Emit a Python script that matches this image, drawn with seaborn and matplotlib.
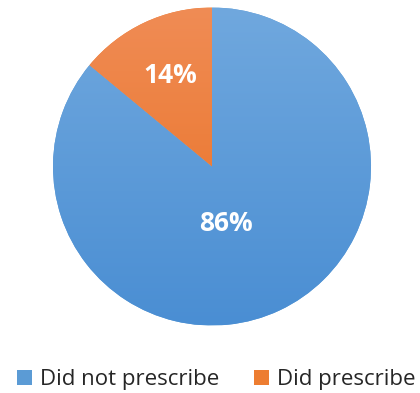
import numpy as np
import matplotlib
matplotlib.use("Agg")
import matplotlib.pyplot as plt
import seaborn as sns
from matplotlib.colors import LinearSegmentedColormap
from matplotlib.patches import Patch

categories = ["Did not prescribe", "Did prescribe"]
values = [86, 14]
pct_labels = ["86%", "14%"]

sns.set_theme(style="white")
plt.rcParams['font.family'] = ['Open Sans', 'DejaVu Sans']

base_colors = ["#5B9BD5", "#ED7D31"]
grad = [("#70A8DE", "#4A8ED3"), ("#F08C55", "#E86E1E")]

fig = plt.figure(figsize=(4.2, 3.93), dpi=100)
ax = fig.add_axes([(212 - 159) / 420, 1 - (166.5 + 159) / 393, 318 / 420, 318 / 393])
wedges, _ = ax.pie(values, colors=base_colors, startangle=90, counterclock=False,
                   radius=1.0, wedgeprops=dict(linewidth=0))
ax.set_xlim(-1, 1)
ax.set_ylim(-1, 1)
ax.set_aspect('equal')

yy = np.linspace(0, 1, 256).reshape(-1, 1)
for w, (top, bot) in zip(wedges, grad):
    cmap = LinearSegmentedColormap.from_list("g", [bot, top])
    im = ax.imshow(yy, cmap=cmap, extent=[-1, 1, -1, 1], origin='lower',
                   aspect='auto', zorder=w.get_zorder() + 0.1)
    im.set_clip_path(w)

# percentage labels
label_pos = [(0.085, -0.36), (-0.265, 0.57)]
for txt, (x, y) in zip(pct_labels, label_pos):
    ax.text(x, y, txt, ha='center', va='center', color='white',
            fontsize=19, fontweight='bold', zorder=10)

handles = [Patch(facecolor=c, edgecolor='none') for c in base_colors]
fig.legend(handles, categories, loc='center', bbox_to_anchor=(0.515, 1 - 380 / 393),
           ncol=2, frameon=False, fontsize=16, handlelength=0.65, handleheight=0.65,
           handletextpad=0.35, columnspacing=1.6, borderaxespad=0, borderpad=0)

fig.savefig("out.png", dpi=100)
